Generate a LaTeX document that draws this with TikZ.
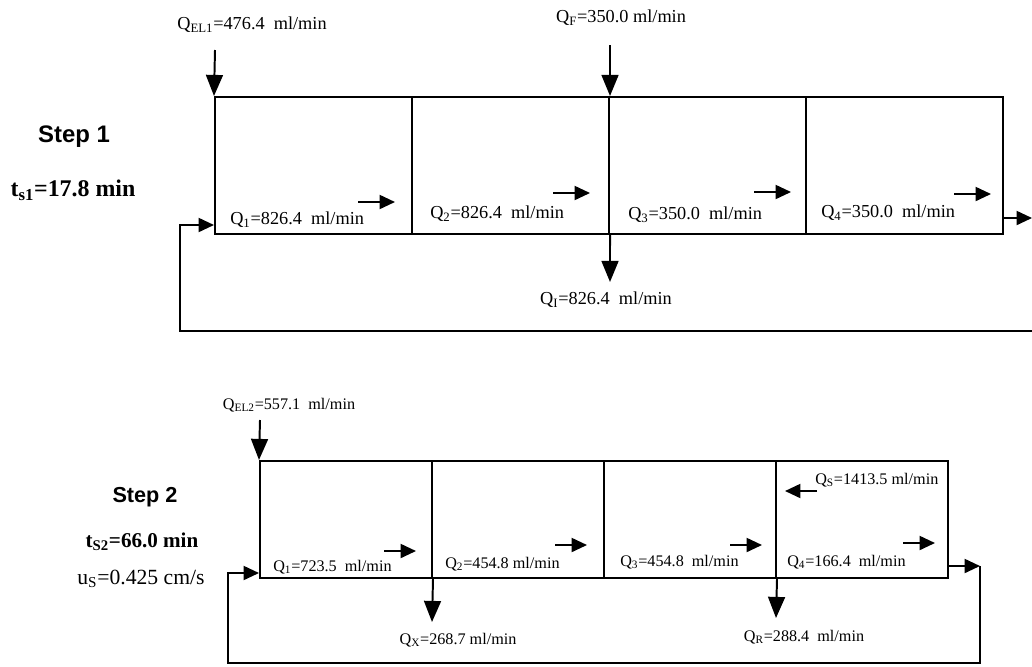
\documentclass[tikz,border=0pt]{standalone}
\usepackage{fontspec}
\setmainfont{Liberation Serif}
\newfontfamily\stepsans{Liberation Sans}
\usetikzlibrary{arrows.meta, positioning, calc}
\tikzset{
  arrowBig/.style={-{Triangle[length=15pt, width=12pt]}, line width=1.4pt},
  arrowQ/.style={-{Triangle[length=11pt, width=10pt]}, line width=1.4pt},
  zoneA/.style={rectangle, draw, line width=1.4pt, inner sep=0pt,
                minimum width=4.925cm, minimum height=3.425cm},
  zoneB/.style={rectangle, draw, line width=1.4pt, inner sep=0pt,
                minimum width=4.3cm, minimum height=2.925cm},
  labA/.style={inner sep=0pt, font=\fontsize{13}{15}\selectfont},
  labB/.style={inner sep=0pt, font=\fontsize{11.5}{13}\selectfont},
  stepLab/.style={inner sep=0pt, font=\stepsans\bfseries\fontsize{17}{20}\selectfont},
  timeLab/.style={inner sep=0pt, font=\bfseries\fontsize{17}{20}\selectfont},
}

\begin{document}
\begin{tikzpicture}[x=0.025cm, y=-0.025cm]
    \useasboundingbox (0,0) rectangle (1032,666);
    % Step 1
    \foreach \i in {1,...,4}
      \node[zoneA] (a\i) at ({215+197*(\i-0.5)}, 165.5) {};
    \foreach \i/\val/\lx/\ly/\ax/\ay in {1/826.4/230/220/395/202, 2/826.4/430/214/590/193,
                                         3/350.0/628/215/791/192, 4/350.0/821/213/991/194} {
      \node[labA, anchor=west] (qa\i) at (\lx,\ly) {Q\textsubscript{\i}=\val\ \ ml/min};
      \coordinate (fa\i) at (\ax,\ay);
      \draw[arrowQ] ($(fa\i)+(-37,0)$) -- (fa\i);
    }
    \node[stepLab] (s1) at (74,137) {Step 1};
    \node[timeLab] (t1) at (73,190) {t\textsubscript{s1}=17.8 min};

    \node[labA] (qel1) at (252,25) {Q\textsubscript{EL1}=476.4\ \ ml/min};
    \coordinate (el1) at (215,50);
    \draw[arrowBig] (el1) -- (a1.north west);
    \node[labA] (qf) at (621,18) {Q\textsubscript{F}=350.0 ml/min};
    \coordinate (f1) at (610,45);
    \draw[arrowBig] (f1) -- (a2.north east);
    \coordinate (x1) at (610,282);
    \draw[arrowBig] (a2.south east) -- (x1);
    \node[labA] (qi) at (606,300) {Q\textsubscript{I}=826.4\ \ ml/min};

    \coordinate (o1) at (1032,218);
    \draw[arrowQ] (a4.east |- o1) -- (o1);
    \coordinate (r1) at (1032,331);
    \coordinate (l1) at (180,331);
    \draw[arrowQ] (r1) -- (l1) |- (a1.west |- 0,225);

    % Step 2
    \foreach \i in {1,...,4}
      \node[zoneB] (b\i) at ({260+172*(\i-0.5)}, 519.5) {};
    \foreach \i/\val/\lx/\ly/\ax/\ay in {1/723.5\ /273/567/416/551, 2/454.8/445/564/587/545,
                                         3/454.8\ /620/562/762/545, 4/166.4\ /787/562/935/543} {
      \node[labB, anchor=west] (qb\i) at (\lx,\ly) {Q\textsubscript{\i}=\val\ ml/min};
      \coordinate (fb\i) at (\ax,\ay);
      \draw[arrowQ] ($(fb\i)+(-32,0)$) -- (fb\i);
    }
    \node[stepLab, font=\stepsans\bfseries\fontsize{15.4}{18}\selectfont] (s2) at (145,497) {Step 2};
    \node[timeLab, font=\bfseries\fontsize{15}{18}\selectfont] (t2) at (142,542) {t\textsubscript{S2}=66.0 min};
    \node[inner sep=0pt, font=\fontsize{15.4}{18}\selectfont] (u2) at (141,579) {u\textsubscript{S}=0.425 cm/s};

    \node[labB] (qel2) at (289,405) {Q\textsubscript{EL2}=557.1\ \ ml/min};
    \coordinate (el2) at (260,420);
    \draw[arrowBig] (el2) -- (b1.north west);
    \coordinate (x2) at (432,622);
    \draw[arrowBig] (b1.south east) -- (x2);
    \node[labB] (qx) at (458,640) {Q\textsubscript{X}=268.7 ml/min};
    \coordinate (rr2) at (776,618);
    \draw[arrowBig] (b3.south east) -- (rr2);
    \node[labB] (qr) at (804,637) {Q\textsubscript{R}=288.4\ \ ml/min};
    \node[labB, anchor=west] (qs) at (815,480) {Q\textsubscript{S}=1413.5 ml/min};
    \coordinate (fs) at (785,491);
    \draw[arrowQ] ($(fs)+(32,0)$) -- (fs);

    \coordinate (o2) at (980,566);
    \draw[arrowQ] (b4.east |- o2) -- (o2);
    \coordinate (r2) at (980,663);
    \coordinate (l2) at (228,663);
    \draw[arrowQ] (o2) -- (r2) -- (l2) |- (b1.west |- 0,573);
\end{tikzpicture}
\end{document}
